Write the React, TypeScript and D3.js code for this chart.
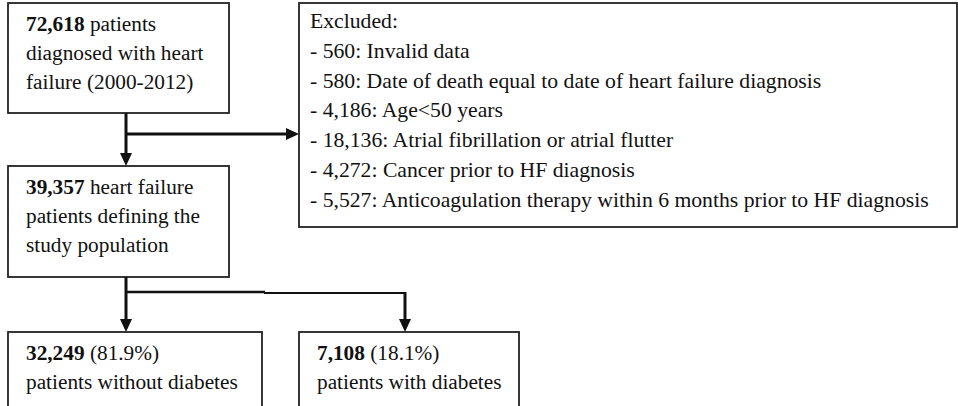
import React from "react";
import * as d3 from "d3";

const W = 958;
const H = 406;

// Flow chart content
const nodeBold = ["72,618", "39,357", "32,249", "7,108"];
const nodeFirstRest = [" patients", " heart failure", " (81.9%)", " (18.1%)"];
const nodeMoreLines = [
  ["diagnosed with heart", "failure (2000-2012)"],
  ["patients defining the", "study population"],
  ["patients without diabetes"],
  ["patients with diabetes"],
];
const excludedLines = [
  "Excluded:",
  "- 560: Invalid data",
  "- 580: Date of death equal to date of heart failure diagnosis",
  "- 4,186: Age<50 years",
  "- 18,136: Atrial fibrillation or atrial flutter",
  "- 4,272: Cancer prior to HF diagnosis",
  "- 5,527: Anticoagulation therapy within 6 months prior to HF diagnosis",
];

// layout (pixel positions)
const boxes = [
  { x0: 8, y0: 3, x1: 229, y1: 113 },
  { x0: 8, y0: 166, x1: 229, y1: 277 },
  { x0: 8, y0: 332, x1: 262, y1: 420 },
  { x0: 299, y0: 332, x1: 519, y1: 420 },
];
const exBox = { x0: 299, y0: 3, x1: 957, y1: 227 };

const FONT = "'Liberation Serif', 'Times New Roman', serif";
const FS = 21.3;
const LH = 29;

function arrowHead(tipX: number, tipY: number, dir: "down" | "right") {
  const p = d3.path();
  if (dir === "down") {
    p.moveTo(tipX, tipY);
    p.lineTo(tipX - 6, tipY - 13);
    p.lineTo(tipX + 6, tipY - 13);
  } else {
    p.moveTo(tipX, tipY);
    p.lineTo(tipX - 13, tipY - 6);
    p.lineTo(tipX - 13, tipY + 6);
  }
  p.closePath();
  return p.toString();
}

export default function App() {
  const line = d3.line<[number, number]>();
  const stroke = "#111";
  return (
    <svg
      width={W}
      height={H}
      style={{ position: "absolute", left: 0, top: 0, background: "#fff", fontFamily: FONT }}
      fontSize={FS}
    >
      <rect x={0} y={0} width={W} height={H} fill="#fff" />
      {boxes.map((b, i) => (
        <g key={i}>
          <rect
            x={b.x0}
            y={b.y0}
            width={b.x1 - b.x0}
            height={b.y1 - b.y0}
            fill="#fff"
            stroke="#222"
            strokeWidth={1.8}
          />
          <text x={b.x0 + 18} y={b.y0 + 28} fill="#111">
            <tspan fontWeight="bold">{nodeBold[i]}</tspan>
            <tspan>{nodeFirstRest[i]}</tspan>
          </text>
          {nodeMoreLines[i].map((t, j) => (
            <text key={j} x={b.x0 + 18} y={b.y0 + 28 + (j + 1) * LH} fill="#111">
              {t}
            </text>
          ))}
        </g>
      ))}
      <rect
        x={exBox.x0}
        y={exBox.y0}
        width={exBox.x1 - exBox.x0}
        height={exBox.y1 - exBox.y0}
        fill="#fff"
        stroke="#222"
        strokeWidth={1.8}
      />
      {excludedLines.map((t, i) => (
        <text key={i} x={exBox.x0 + 11} y={exBox.y0 + 25 + i * 29.8} fill="#111" fontSize={21.7}>
          {t}
        </text>
      ))}
      {/* connectors */}
      <path d={line([[126, 113], [126, 154]]) || ""} stroke={stroke} strokeWidth={3} fill="none" />
      <path d={arrowHead(126, 166, "down")} fill={stroke} />
      <path d={line([[126, 134], [287, 134]]) || ""} stroke={stroke} strokeWidth={3} fill="none" />
      <path d={arrowHead(299, 134, "right")} fill={stroke} />
      <path d={line([[126, 277], [126, 320]]) || ""} stroke={stroke} strokeWidth={3} fill="none" />
      <path d={arrowHead(126, 332, "down")} fill={stroke} />
      <path d={line([[126, 292], [265, 292]]) || ""} stroke={stroke} strokeWidth={2.4} fill="none" />
      <path d={line([[264, 293], [406, 293]]) || ""} stroke={stroke} strokeWidth={2} fill="none" />
      <path d={line([[405, 292], [405, 320]]) || ""} stroke={stroke} strokeWidth={3} fill="none" />
      <path d={arrowHead(405, 332, "down")} fill={stroke} />
    </svg>
  );
}
